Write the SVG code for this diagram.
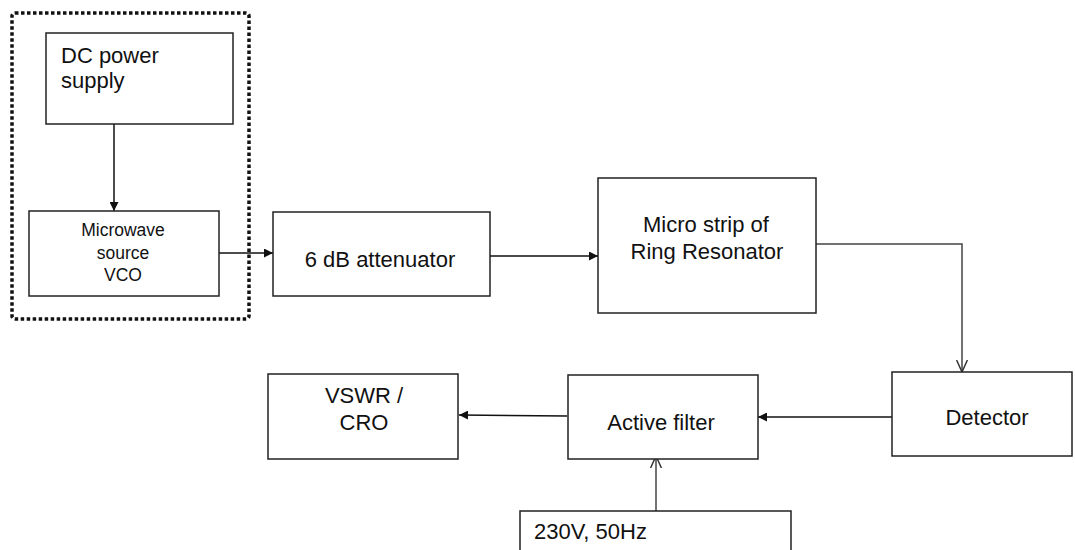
<svg xmlns="http://www.w3.org/2000/svg" width="1075" height="550" viewBox="0 0 1075 550">
<style>
.box{fill:#fff;stroke:#222;stroke-width:1.5}
.t{font-family:"Liberation Sans",Arial,sans-serif;fill:#111}
.l{font-size:22px}
.s{font-size:17.5px}
.c{fill:none;stroke:#111;stroke-width:1.5}
.g{fill:none;stroke:#444;stroke-width:1.5}
</style>
<defs>
<marker id="fa" viewBox="0 0 10 10" refX="10" refY="5" markerWidth="9" markerHeight="9" markerUnits="userSpaceOnUse" orient="auto"><path d="M0,0 L10,5 L0,10 z" fill="#111"/></marker>
<marker id="oa" viewBox="0 0 10 10" refX="10" refY="5" markerWidth="12" markerHeight="12" markerUnits="userSpaceOnUse" orient="auto"><path d="M0,0.5 L10,5 L0,9.5" fill="none" stroke="#333" stroke-width="1.2"/></marker>
</defs>
<rect x="0" y="0" width="1075" height="550" fill="#fff"/>
<rect id="group-border" x="12" y="13" width="237" height="306" rx="3" fill="none" stroke="#111" stroke-width="3.5" stroke-dasharray="3.5,2.5"/>
<g id="connectors">
<line class="c" x1="114" y1="124" x2="114" y2="211" marker-end="url(#fa)"/>
<line class="c" x1="219" y1="253" x2="273" y2="253" marker-end="url(#fa)"/>
<line class="c" x1="490" y1="256" x2="598" y2="256" marker-end="url(#fa)"/>
<polyline class="g" points="816,244 962,244 962,372" marker-end="url(#oa)"/>
<line class="c" x1="892" y1="417" x2="758" y2="417" marker-end="url(#fa)"/>
<line class="c" x1="567" y1="416" x2="459" y2="415" marker-end="url(#fa)"/>
<line class="g" x1="656" y1="511" x2="656" y2="456" marker-end="url(#oa)"/>
</g>
<g id="dc-power">
<rect class="box" x="46" y="33" width="187" height="91"/>
<text class="t l" x="61" y="63">DC power</text>
<text class="t l" x="61" y="88">supply</text>
</g>
<g id="microwave-source">
<rect class="box" x="29" y="211" width="190" height="85"/>
<text class="t s" x="123" y="236" text-anchor="middle">Microwave</text>
<text class="t s" x="123" y="259" text-anchor="middle">source</text>
<text class="t s" x="123" y="281" text-anchor="middle">VCO</text>
</g>
<g id="attenuator">
<rect class="box" x="273" y="212" width="217" height="84"/>
<text class="t l" x="380" y="267" text-anchor="middle">6 dB attenuator</text>
</g>
<g id="ring-resonator">
<rect class="box" x="598" y="178" width="218" height="135"/>
<text class="t l" x="706" y="232" text-anchor="middle">Micro strip of</text>
<text class="t l" x="707" y="259" text-anchor="middle">Ring Resonator</text>
</g>
<g id="detector">
<rect class="box" x="892" y="372" width="180" height="84"/>
<text class="t l" x="987" y="425" text-anchor="middle">Detector</text>
</g>
<g id="active-filter">
<rect class="box" x="568" y="375" width="190" height="84"/>
<text class="t l" x="661" y="430" text-anchor="middle">Active filter</text>
</g>
<g id="vswr-cro">
<rect class="box" x="268" y="374" width="190" height="85"/>
<text class="t l" x="364" y="403" text-anchor="middle">VSWR /</text>
<text class="t l" x="364" y="430" text-anchor="middle">CRO</text>
</g>
<g id="mains">
<rect class="box" x="520" y="511" width="271" height="45"/>
<text class="t l" x="534" y="539">230V, 50Hz</text>
</g>
</svg>
